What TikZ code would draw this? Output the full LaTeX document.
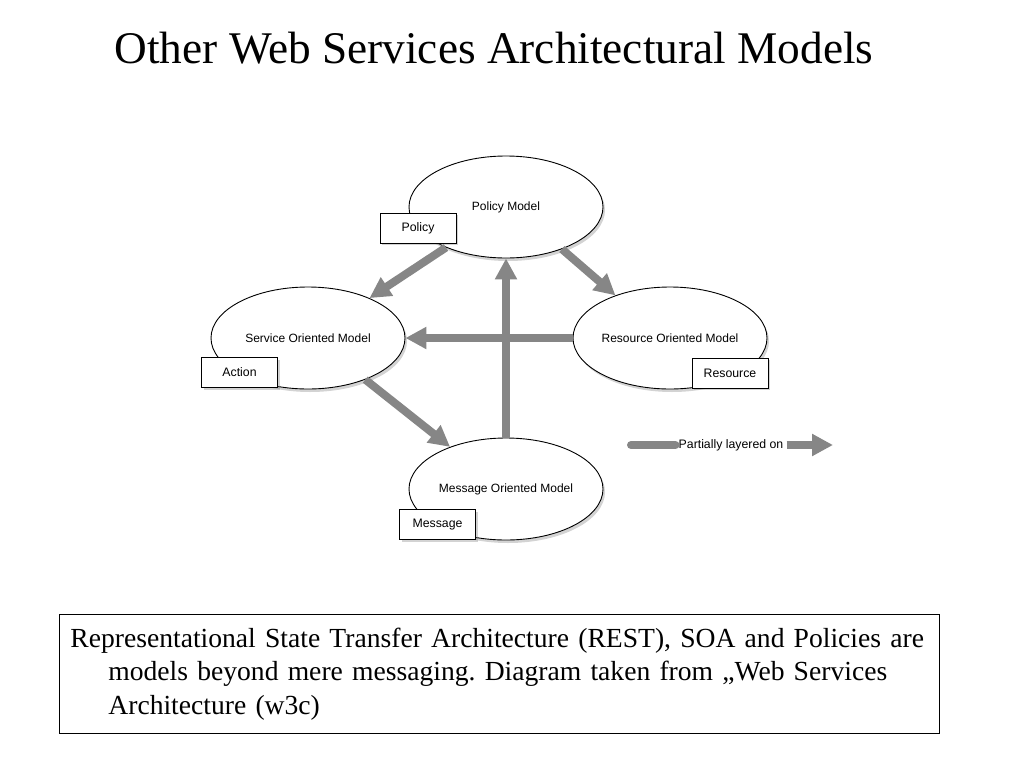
\documentclass[tikz,border=0pt]{standalone}
\usepackage{fontspec}
\setmainfont{Liberation Serif}
\setsansfont{Liberation Sans}
\usetikzlibrary{shapes.geometric,shadows,arrows.meta}
\definecolor{arrowgray}{RGB}{134,134,134}

\begin{document}
\begin{tikzpicture}[x=1pt,y=-1pt]
\tikzstyle{model}=[draw=black,line width=0.9pt,fill=white,ellipse,minimum width=194pt,minimum height=102pt,inner sep=0pt,font=\sffamily\fontsize{12}{14}\selectfont,drop shadow={opacity=0.35,shadow xshift=2pt,shadow yshift=-3pt}]
\tikzstyle{tag}=[draw=black,line width=0.8pt,fill=white,minimum width=76pt,minimum height=30pt,inner sep=0pt,font=\sffamily\fontsize{12.3}{14}\selectfont,drop shadow={opacity=0.35,shadow xshift=2pt,shadow yshift=-2pt}]
\tikzstyle{layer}=[draw=arrowgray,line width=8pt,-{Triangle[length=21pt,width=21pt]}]
\useasboundingbox (0,0) rectangle (1024,768);
\node (title) at (494,48) {\fontsize{45.3}{52}\selectfont Other Web Services Architectural Models};
\node[model] (policy) at (506,207) {Policy Model};
\node[model] (service) at (308,338) {Service Oriented Model};
\node[model] (resource) at (670,338) {Resource Oriented Model};
\node[model] (message) at (506,489) {Message Oriented Model};
\draw[layer] (policy.214) -- (service.33);
\draw[layer] (policy.-37) -- (resource.142);
\draw[layer] (resource.west) -- (service.east);
\draw[layer] (message.north) -- (policy.south);
\draw[layer] (service.-36) -- (message.143);
\node[tag] (policytag) at (418,228) {Policy};
\node[tag] (actiontag) at (239.5,372.5) {Action};
\node[tag] (resourcetag) at (730,373) {Resource};
\node[tag] (messagetag) at (437.5,524.5) {Message};
\node[font=\sffamily\fontsize{12.3}{14}\selectfont,inner sep=3pt] (legend) at (731,445) {Partially layered on};
\coordinate (legstart) at (631,445);
\coordinate (legend2) at (833,445);
\draw[layer,-,line cap=round] (legstart) -- (legend.west);
\draw[layer] (legend.east) -- (legend2);
\node[draw=black,line width=0.8pt,anchor=north west,text width=858pt,minimum height=119pt,inner xsep=11pt,inner ysep=6pt,align=left,font=\fontsize{27.6}{33.5}\selectfont\frenchspacing] (note) at (59,614)
{Representational State Transfer Architecture (REST), SOA and Policies are\\\hspace*{38pt}models beyond mere messaging. Diagram taken from „Web Services\\\hspace*{38pt}Architecture (w3c)};
\end{tikzpicture}
\end{document}
